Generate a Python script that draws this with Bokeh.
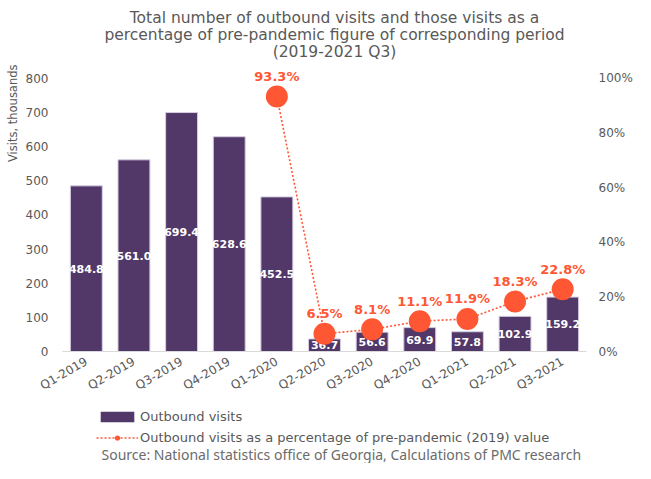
import math
from bokeh.plotting import figure
from bokeh.layouts import column
from bokeh.models import (Range1d, LinearAxis, FixedTicker, PrintfTickFormatter,
                          ColumnDataSource, Legend, LegendItem, Title, FactorRange, Label)
from bokeh.core.properties import value
from bokeh.embed import file_html
from bokeh.resources import INLINE

# ---- data ----
quarters = ["Q1-2019", "Q2-2019", "Q3-2019", "Q4-2019", "Q1-2020", "Q2-2020",
            "Q3-2020", "Q4-2020", "Q1-2021", "Q2-2021", "Q3-2021"]
visits = [484.8, 561.0, 699.4, 628.6, 452.5, 36.7, 56.6, 69.9, 57.8, 102.9, 159.2]
pct_quarters = ["Q1-2020", "Q2-2020", "Q3-2020", "Q4-2020", "Q1-2021", "Q2-2021", "Q3-2021"]
pct_values = [93.3, 6.5, 8.1, 11.1, 11.9, 18.3, 22.8]
left_ticks = [0, 100, 200, 300, 400, 500, 600, 700, 800]
right_ticks = [0, 20, 40, 60, 80, 100]

title_lines = ["Total number of outbound visits and those visits as a",
               "percentage of pre-pandemic figure of corresponding period",
               "(2019-2021 Q3)"]
y_title = "Visits, thousands"
source_text = "Source: National statistics office of Georgia, Calculations of PMC research"
bar_name = "Outbound visits"
line_name = "Outbound visits as a percentage of pre-pandemic (2019) value"

PURPLE = "#523869"
ORANGE = "#FF5733"
GRAY = "#595959"
FONT = "DejaVu Sans"
W = 635
LEFT = 58          # frame left edge shared by all stacked figures


def blank(h):
    f = figure(width=W, height=h, x_range=Range1d(0, 1), y_range=Range1d(0, 1),
               output_backend="svg", toolbar_location=None,
               x_axis_location=None, y_axis_location=None,
               min_border=0, min_border_left=0, min_border_right=0,
               min_border_top=0, min_border_bottom=0)
    f.outline_line_color = None
    f.xgrid.grid_line_color = None
    f.ygrid.grid_line_color = None
    return f


# ---- header with title ----
HH = 60
head = blank(HH)
for txt, yy in zip(title_lines, [17, 34.5, 51]):
    head.add_layout(Label(x=330 - LEFT, y=HH - yy, x_units="screen", y_units="screen",
                          text=txt, text_align="center", text_baseline="middle",
                          text_font=FONT, text_font_size="15.5px", text_color=GRAY))

# ---- main chart ----
bar_src = ColumnDataSource(dict(
    q=quarters, v=visits, mid=[v / 2 for v in visits],
    lbl=["%.1f" % v for v in visits]))
pct_src = ColumnDataSource(dict(
    q=pct_quarters, p=pct_values, lbl=["%.1f%%" % v for v in pct_values]))

MH = 341
p = figure(x_range=FactorRange(*quarters), y_range=Range1d(0, 840),
           width=W, height=MH, output_backend="svg", toolbar_location=None,
           min_border_left=LEFT, min_border_right=20, min_border_top=4,
           min_border_bottom=44)
p.extra_y_ranges = {"pct": Range1d(0, 105)}
p.outline_line_color = None
p.xgrid.grid_line_color = None
p.ygrid.grid_line_color = None

p.yaxis.ticker = FixedTicker(ticks=left_ticks)
p.yaxis.axis_line_color = None
p.yaxis.major_tick_line_color = None
p.yaxis.minor_tick_line_color = None
p.yaxis.major_label_standoff = 8
p.yaxis.major_label_text_font = FONT
p.yaxis.major_label_text_font_size = "12px"
p.yaxis.major_label_text_color = GRAY

p.add_layout(Title(text=y_title, align="right", text_font=FONT, standoff=6,
                   text_font_size="11.5px", text_font_style="normal",
                   text_color=GRAY), "left")

p.xaxis.axis_line_color = "#d9d9d9"
p.xaxis.major_tick_line_color = None
p.xaxis.major_label_orientation = math.pi / 6
p.xaxis.major_label_text_font = FONT
p.xaxis.major_label_text_font_size = "12px"
p.xaxis.major_label_text_color = GRAY
p.xaxis.major_label_standoff = 3

ra = LinearAxis(y_range_name="pct", ticker=FixedTicker(ticks=right_ticks),
                formatter=PrintfTickFormatter(format="%d%%"))
ra.axis_line_color = None
ra.major_tick_line_color = None
ra.minor_tick_line_color = None
ra.major_label_standoff = 6
ra.major_label_text_font = FONT
ra.major_label_text_font_size = "12px"
ra.major_label_text_color = GRAY
p.add_layout(ra, "right")

p.vbar(x="q", top="v", width=0.67, source=bar_src,
       fill_color=PURPLE, line_color="#d5cde0", line_width=1)
p.text(x="q", y="mid", text="lbl", source=bar_src, text_color="white",
       text_font=value(FONT), text_font_style="bold", text_font_size="11px",
       text_align="center", text_baseline="middle")

p.line(x="q", y="p", source=pct_src, y_range_name="pct",
       line_color=ORANGE, line_width=1.6, line_dash="2 2")
p.scatter(x="q", y="p", source=pct_src, y_range_name="pct", size=22,
          fill_color=ORANGE, line_color=None)
p.text(x="q", y="p", text="lbl", source=pct_src, y_range_name="pct",
       y_offset=-20, text_color=ORANGE, text_font=value(FONT),
       text_font_style="bold", text_font_size="13px",
       text_align="center", text_baseline="middle")

# ---- footer with legend and source ----
# legend-only renderers: zero-size geometry placed outside the footer's visible area
FH = 463 - HH - MH
foot = blank(FH)
lb = foot.vbar(x=[1.6], top=[0], bottom=[0], width=0.01, fill_color=PURPLE,
               line_color=None)
ll = foot.line(x=[1.6, 1.61], y=[0.5, 0.5], line_color=ORANGE, line_width=1.6,
               line_dash="2 2")
ls = foot.scatter(x=[1.6], y=[0.5], size=22, fill_color=ORANGE, line_color=None)
legend = Legend(items=[LegendItem(label=bar_name, renderers=[lb]),
                       LegendItem(label=line_name, renderers=[ll, ls])],
                location=(92 - LEFT, FH - 45), orientation="vertical",
                glyph_width=42, glyph_height=13, label_height=18,
                label_standoff=2, spacing=3, padding=2, margin=0,
                label_text_font=FONT, label_text_font_size="13px",
                label_text_color=GRAY, border_line_color=None,
                background_fill_alpha=0)
foot.add_layout(legend)
foot.add_layout(Label(x=97 - LEFT, y=FH - 53, x_units="screen", y_units="screen",
                      text=source_text, text_align="left", text_baseline="middle",
                      text_font="Noto Sans", text_font_size="14px", text_color="#6b6b6b"))

layout = column(head, p, foot, spacing=0)
open("out.html", "w").write(file_html(layout, INLINE))
